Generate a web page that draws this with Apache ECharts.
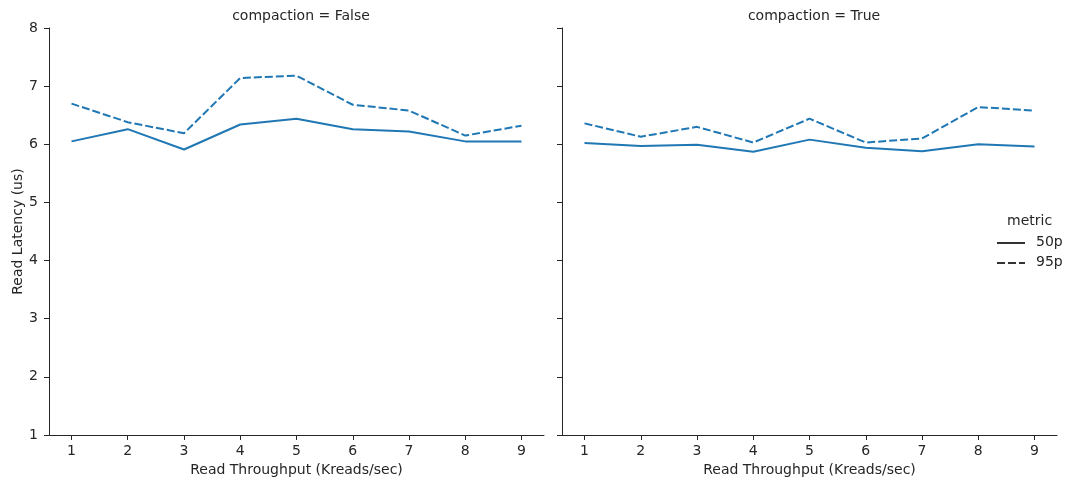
<!DOCTYPE html>
<html>
<head>
<meta charset="utf-8">
<script src="https://cdn.jsdelivr.net/npm/echarts@6/dist/echarts.min.js"></script>
<style>html,body{margin:0;padding:0;background:#fff}#c{width:1069px;height:483px}</style>
</head>
<body>
<div id="c"></div>
<script>
const throughput = [1, 2, 3, 4, 5, 6, 7, 8, 9];
const xTicks = [1, 2, 3, 4, 5, 6, 7, 8, 9];
const yTicks = [1, 2, 3, 4, 5, 6, 7, 8];
const facetTitles = ['compaction = False', 'compaction = True'];
const metrics = ['50p', '95p'];
const falseP50 = [6.05, 6.26, 5.91, 6.34, 6.44, 6.26, 6.22, 6.05, 6.05];
const falseP95 = [6.70, 6.38, 6.19, 7.14, 7.18, 6.68, 6.58, 6.15, 6.32];
const trueP50 = [6.02, 5.97, 5.99, 5.87, 6.08, 5.94, 5.88, 6.00, 5.96];
const trueP95 = [6.36, 6.13, 6.30, 6.03, 6.44, 6.03, 6.10, 6.64, 6.58];

const FONT = 'DejaVu Sans';
const FS = 14;
const TXT = '#262626';
const BLUE = '#1f77b4';
const DASH = [8, 3];

const chart = echarts.init(document.getElementById('c'), null, {renderer: 'canvas'});
const pair = (xs, ys) => xs.map((x, i) => [x, ys[i]]);

function xAxis(gi) {
  return {
    type: 'value', gridIndex: gi, min: 0.6, max: 9.4,
    name: 'Read Throughput (Kreads/sec)', nameLocation: 'middle', nameGap: 28,
    nameTextStyle: {fontFamily: FONT, fontSize: FS, color: TXT},
    axisLine: {show: true, lineStyle: {color: TXT, width: 1}},
    axisTick: {show: true, length: 5, lineStyle: {color: TXT}, customValues: xTicks},
    axisLabel: {fontFamily: FONT, fontSize: FS, color: TXT, margin: 9, customValues: xTicks},
    splitLine: {show: false}
  };
}
function yAxis(gi, showLabels) {
  return {
    type: 'value', gridIndex: gi, min: 1, max: 8, interval: 1,
    name: showLabels ? 'Read Latency (us)' : '', nameLocation: 'middle', nameGap: 23,
    nameTextStyle: {fontFamily: FONT, fontSize: FS, color: TXT},
    axisLine: {show: true, lineStyle: {color: TXT, width: 1}},
    axisTick: {show: true, length: 5, lineStyle: {color: TXT}, customValues: yTicks},
    axisLabel: {show: showLabels, fontFamily: FONT, fontSize: FS, color: TXT, margin: 11, customValues: yTicks},
    splitLine: {show: false}
  };
}
function line(gi, name, ys, dashed) {
  return {
    type: 'line', name: name, xAxisIndex: gi, yAxisIndex: gi,
    data: pair(throughput, ys), symbol: 'none', silent: true,
    lineStyle: {color: BLUE, width: 2, type: dashed ? DASH : 'solid'},
    itemStyle: {color: BLUE}
  };
}

const option = {
  animation: false,
  backgroundColor: '#fff',
  title: [
    {text: facetTitles[0], left: 296, top: 4, textAlign: 'center',
     textStyle: {fontFamily: FONT, fontSize: FS, fontWeight: 'normal', color: TXT}},
    {text: facetTitles[1], left: 809, top: 4, textAlign: 'center',
     textStyle: {fontFamily: FONT, fontSize: FS, fontWeight: 'normal', color: TXT}}
  ],
  grid: [
    {left: 49, top: 28, width: 495, height: 407},
    {left: 562, top: 28, width: 495, height: 407}
  ],
  xAxis: [xAxis(0), xAxis(1)],
  yAxis: [yAxis(0, true), yAxis(1, false)],
  series: [
    line(0, metrics[0], falseP50, false),
    line(0, metrics[1], falseP95, true),
    line(1, metrics[0], trueP50, false),
    line(1, metrics[1], trueP95, true)
  ],
  graphic: [
    {type: 'text', left: 1007, top: 214, style: {text: 'metric', font: FS + 'px "DejaVu Sans"', fill: TXT}},
    {type: 'line', shape: {x1: 997, y1: 243, x2: 1025, y2: 243}, style: {stroke: '#333', lineWidth: 2}},
    {type: 'text', left: 1036, top: 235, style: {text: metrics[0], font: FS + 'px "DejaVu Sans"', fill: TXT}},
    {type: 'line', shape: {x1: 997, y1: 263, x2: 1025, y2: 263}, style: {stroke: '#333', lineWidth: 2, lineDash: DASH}},
    {type: 'text', left: 1036, top: 255, style: {text: metrics[1], font: FS + 'px "DejaVu Sans"', fill: TXT}}
  ]
};
chart.setOption(option);
</script>
</body>
</html>
